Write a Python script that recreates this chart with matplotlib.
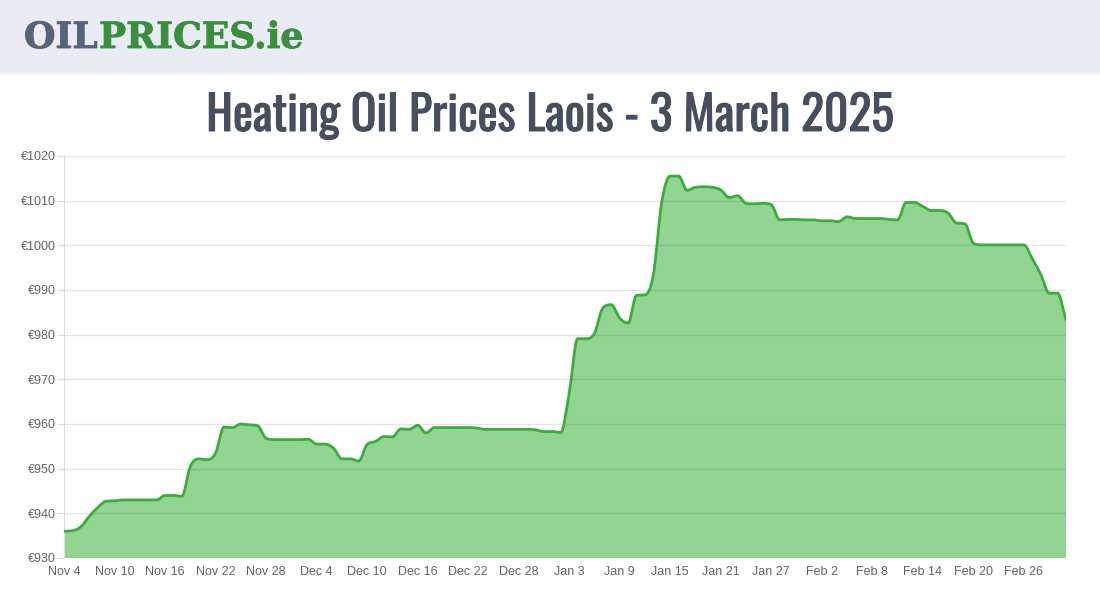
import datetime as dt

import matplotlib
matplotlib.use("Agg")
import matplotlib.pyplot as plt
import matplotlib.dates as mdates
import matplotlib.patheffects as pe
from matplotlib import font_manager
from matplotlib.path import Path
from matplotlib.patches import PathPatch, Rectangle

start = dt.date(2024, 11, 4)

prices = [
    936.0, 936.1, 937.0, 939.3, 941.3, 942.7, 942.8, 943.0, 943.0, 943.0,
    943.0, 943.0, 944.0, 944.0, 943.8, 950.5, 952.2, 952.0, 953.5, 959.3,
    959.2, 960.0, 959.8, 959.6, 956.8, 956.5, 956.5, 956.5, 956.5, 956.6,
    955.5, 955.5, 954.6, 952.2, 952.2, 951.7, 955.4, 956.1, 957.2, 957.1,
    958.9, 958.8, 959.7, 958.0, 959.2, 959.2, 959.2, 959.2, 959.2, 959.1,
    958.8, 958.8, 958.8, 958.8, 958.8, 958.8, 958.7, 958.3, 958.3, 958.1,
    966.9, 979.1, 979.1, 980.3, 986.0, 986.7, 983.7, 982.6, 988.8, 988.9,
    993.5, 1009.8, 1015.5, 1015.5, 1012.3, 1013.0, 1013.1, 1013.0, 1012.4, 1010.7,
    1011.1, 1009.4, 1009.3, 1009.4, 1009.1, 1005.7, 1005.8, 1005.8, 1005.7, 1005.7,
    1005.5, 1005.5, 1005.3, 1006.4, 1006.0, 1006.0, 1006.0, 1006.0, 1005.8, 1005.7,
    1009.6, 1009.6, 1008.7, 1007.8, 1007.8, 1007.2, 1005.0, 1004.8, 1000.5, 1000.1,
    1000.1, 1000.1, 1000.1, 1000.1, 1000.1, 997.0, 993.5, 989.3, 989.3, 983.3,
]
dates = [start + dt.timedelta(days=i) for i in range(len(prices))]

tick_dates = [start + dt.timedelta(days=6 * i) for i in range(20)]
tick_labels = [d.strftime("%b ") + str(d.day) for d in tick_dates]
y_ticks = list(range(930, 1021, 10))

TITLE = "Heating Oil Prices Laois - 3 March 2025"
FILL = "#92d592"
LINE = "#3aad3a"


def pick_title_font():
    # prefer a narrow / condensed face if one is installed
    for f in font_manager.fontManager.ttflist:
        n = f.name.lower()
        if "oswald" in n:
            return dict(family=f.name)
    for f in font_manager.fontManager.ttflist:
        n = f.name.lower()
        if "narrow" in n or "condensed" in n:
            return dict(family=f.name)
    for f in font_manager.fontManager.ttflist:
        if f.name == "DejaVu Sans" and f.stretch == "condensed":
            return dict(family="DejaVu Sans", stretch="condensed")
    return dict(family="DejaVu Sans")


def smooth_path(xs, ys, close_to=None):
    # monotone cubic (Fritsch-Carlson) as bezier segments
    n = len(xs)
    dx = [xs[i + 1] - xs[i] for i in range(n - 1)]
    sl = [(ys[i + 1] - ys[i]) / dx[i] for i in range(n - 1)]
    m = [0.0] * n
    m[0], m[-1] = sl[0], sl[-1]
    for i in range(1, n - 1):
        if sl[i - 1] * sl[i] <= 0:
            m[i] = 0.0
        else:
            m[i] = (sl[i - 1] + sl[i]) / 2
    for i in range(n - 1):
        if sl[i] == 0:
            m[i] = m[i + 1] = 0.0
            continue
        a, b = m[i] / sl[i], m[i + 1] / sl[i]
        s = a * a + b * b
        if s > 9:
            t = 3 / s ** 0.5
            m[i] = t * a * sl[i]
            m[i + 1] = t * b * sl[i]
    verts = [(xs[0], ys[0])]
    codes = [Path.MOVETO]
    for i in range(n - 1):
        h = dx[i] / 3
        verts += [(xs[i] + h, ys[i] + m[i] * h),
                  (xs[i + 1] - h, ys[i + 1] - m[i + 1] * h),
                  (xs[i + 1], ys[i + 1])]
        codes += [Path.CURVE4] * 3
    if close_to is not None:
        verts += [(xs[-1], close_to), (xs[0], close_to), (xs[0], ys[0])]
        codes += [Path.LINETO, Path.LINETO, Path.CLOSEPOLY]
    return Path(verts, codes)


plt.rcParams["font.family"] = ["Liberation Sans", "DejaVu Sans"]

fig = plt.figure(figsize=(11, 6), dpi=100)

# header band + soft shadow
fig.patches.append(Rectangle((0, 530 / 600), 1, 70 / 600,
                             transform=fig.transFigure, color="#e9ecf4"))
for k in range(6):
    fig.patches.append(Rectangle((0, (530 - k - 1) / 600), 1, 1 / 600,
                                 transform=fig.transFigure,
                                 color="#e9ecf4", alpha=0.35 - k * 0.06))
fig.text(24 / 1100, 1 - 38 / 600, "OIL", color="#58637a", fontsize=26,
         family="DejaVu Serif", weight="heavy", va="center", ha="left",
         path_effects=[pe.withStroke(linewidth=0.6, foreground="#58637a")])
fig.text(99 / 1100, 1 - 38 / 600, "PRICES.ie", color="#3a8f3f", fontsize=26,
         family="DejaVu Serif", weight="heavy", va="center", ha="left",
         path_effects=[pe.withStroke(linewidth=0.6, foreground="#3a8f3f")])

tfont = pick_title_font()
title = fig.text(0.5, 1 - 116 / 600, TITLE, ha="center", va="center",
                 fontsize=33, color="#464f5e", weight="bold", **tfont,
                 path_effects=[pe.withStroke(linewidth=0.7, foreground="#464f5e")])
# fit the title to the width it has in the reference (~690 px)
r = fig.canvas.get_renderer()
w = title.get_window_extent(r).width
title.set_fontsize(min(33 * 688 / w, 40))

ax = fig.add_axes([64 / 1100, 42 / 600, 1002 / 1100, 402 / 600])
x = mdates.date2num(dates)
ax.add_patch(PathPatch(smooth_path(list(x), prices, close_to=930),
                       facecolor=FILL, edgecolor="none", zorder=1))
ax.add_patch(PathPatch(smooth_path(list(x), prices), facecolor="none",
                       edgecolor=LINE, lw=2, zorder=3, capstyle="round"))
ax.set_xlim(x[0], x[-1])
ax.set_ylim(930, 1020)

ax.set_yticks(y_ticks)
ax.set_yticklabels([f"€{v}" for v in y_ticks])
ax.set_xticks(mdates.date2num(tick_dates))
ax.set_xticklabels(tick_labels)
ax.tick_params(axis="y", length=5, color="#dddddd", labelsize=9,
               labelcolor="#666666", pad=1)
ax.tick_params(axis="x", length=0, labelsize=9, labelcolor="#666666", pad=6)
ax.grid(axis="y", color="#000000", alpha=0.1, lw=1, zorder=2)
ax.set_axisbelow(False)
for s in ["top", "right", "bottom"]:
    ax.spines[s].set_visible(False)
ax.spines["left"].set_color("#dddddd")

fig.savefig("out.png", dpi=100)
